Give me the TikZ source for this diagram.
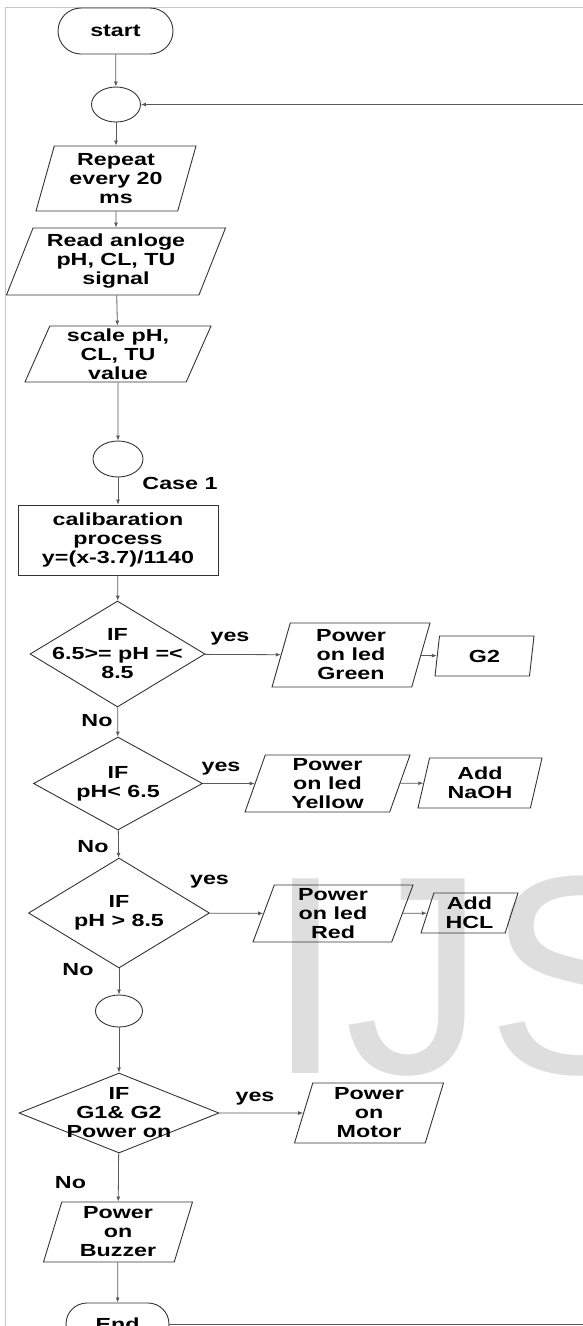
\documentclass[tikz,border=0pt]{standalone}
\usepackage{fontspec}
\setmainfont{Liberation Sans}[FakeStretch=1.33]
\newfontfamily\wmfont{Liberation Sans}
\usetikzlibrary{positioning, arrows.meta, calc, shapes}

\begin{document}
\begin{tikzpicture}[x=1pt, y=-1pt, >={Latex[length=5pt,width=4pt]},
		every node/.style={font=\fontsize{17.5}{19}\selectfont\bfseries},
		term/.style={draw=black!80, line width=0.9pt, rounded rectangle, minimum height=46pt, inner sep=0pt},
		io/.style={draw=black!80, line width=0.9pt, trapezium, trapezium left angle=70, trapezium right angle=110, trapezium stretches body, inner sep=0pt, align=center},
		proc/.style={draw=black!80, line width=0.9pt, rectangle, inner sep=0pt, align=center},
		dec/.style={draw=black!80, line width=0.9pt, diamond, inner sep=0pt},
		joint/.style={draw=black!80, line width=0.9pt, ellipse, inner sep=0pt},
		inl/.style={align=center},
		flow/.style={->, draw=black!65, line width=0.8pt}]
		\useasboundingbox (0,0) rectangle (583,1326);
		% watermark and page frame
		\node[font=\wmfont\fontsize{283}{283}\selectfont, text=black!13, anchor=base west, inner sep=0pt] (ijs) at (266,1073) {IJS};
		\draw[black!22, line width=1pt] (5,1326) -- (5,7) -- (583,7);
		
		\node[term, minimum width=115pt] (start) at (115.5,31) {start};
		\node[joint, minimum width=49pt, minimum height=35pt] (c1) at (116,104.5) {};
		\node[io, minimum width=160pt, minimum height=65pt] (rep) at (116,178.5) {Repeat\\every 20\\ms};
		\node[io, trapezium left angle=64, trapezium right angle=116, minimum width=219pt, minimum height=67pt] (read) at (116,261.5) {Read anloge\\pH, CL, TU\\signal};
		\node[io, trapezium left angle=64, trapezium right angle=116, minimum width=186pt, minimum height=56pt] (scale) at (118,354) {scale pH,\\CL, TU\\value};
		\node[joint, minimum width=50pt, minimum height=36pt] (c2) at (118,459) {};
		\node (case) at (180,483.5) {Case 1};
		\node[proc, minimum width=200pt, minimum height=70pt] (calib) at (118,540) {calibaration\\process\\y=(x-3.7)/1140};
		
		% case 1 checks
		\node[dec, minimum width=175pt, minimum height=106pt, label={[inl]center:IF\\6.5>= pH =<\\8.5}] (if1) at (117.5,654) {};
		\node[io, minimum width=158pt, minimum height=64pt] (green) at (351,655) {Power\\on led\\Green};
		\node[io, minimum width=99pt, minimum height=40pt] (g2) at (484.5,656) {G2};
		\node (yes1) at (230,639) {yes};
		\node (no1) at (97,721) {No};
		
		\node[dec, minimum width=169pt, minimum height=93pt, label={[inl]center:IF\\pH< 6.5}] (if2) at (118,783.5) {};
		\node[io, trapezium left angle=68, trapezium right angle=112, minimum width=165pt, minimum height=57pt] (yellow) at (327.5,783.5) {Power\\on led\\Yellow};
		\node[io, minimum width=124pt, minimum height=50pt] (naoh) at (480,783) {Add\\NaOH};
		\node (yes2) at (221,769) {yes};
		\node (no2) at (93,847) {No};
		
		\node[dec, minimum width=181pt, minimum height=110pt, label={[inl]center:IF\\pH > 8.5}] (if3) at (119,913) {};
		\node[io, trapezium left angle=67, trapezium right angle=113, minimum width=160pt, minimum height=57pt] (red) at (333,913.5) {Power\\on led\\Red};
		\node[io, trapezium left angle=68, trapezium right angle=112, minimum width=97pt, minimum height=40pt] (hcl) at (469.5,913) {Add\\HCL};
		\node (yes3) at (209.5,882) {yes};
		\node (no3) at (78,969.5) {No};
		
		\node[joint, minimum width=47pt, minimum height=32pt] (c3) at (119,1011) {};
		\node[dec, minimum width=200pt, minimum height=80pt, label={[inl]center:IF\\G1\& G2\\Power on}] (if4) at (119,1113) {};
		\node[io, minimum width=149pt, minimum height=60pt] (motor) at (369,1113) {Power\\on\\Motor};
		\node (yes4) at (255,1099) {yes};
		\node (no4) at (70.5,1183) {No};
		\node[io, minimum width=149pt, minimum height=60pt] (buzzer) at (118,1232) {Power\\on\\Buzzer};
		\node[term, minimum width=103pt, minimum height=42pt] (end) at (117.5,1324) {End};
		\coordinate (back) at (600,104.5);
		
		\draw[flow] (start) -- (c1);
		\draw[flow] (c1) -- (rep);
		\draw[flow] (rep) -- (read);
		\draw[flow] (read) -- (scale);
		\draw[flow] (scale) -- (c2);
		\draw[flow] (c2) -- (calib);
		\draw[flow] (calib) -- (if1);
		\draw[flow] (if1) -- (green);
		\draw[flow] (green) -- (g2);
		\draw[flow] (if1) -- (if2);
		\draw[flow] (if2) -- (yellow);
		\draw[flow] (yellow) -- (naoh);
		\draw[flow] (if2) -- (if3);
		\draw[flow] (if3) -- (red);
		\draw[flow] (red) -- (hcl);
		\draw[flow] (if3) -- (c3);
		\draw[flow] (c3) -- (if4);
		\draw[flow] (if4) -- (motor);
		\draw[flow] (if4) -- (buzzer);
		\draw[flow] (buzzer) -- (end);
		\draw[flow] (end.east) -| (back) -- (c1);
	\end{tikzpicture}
\end{document}
